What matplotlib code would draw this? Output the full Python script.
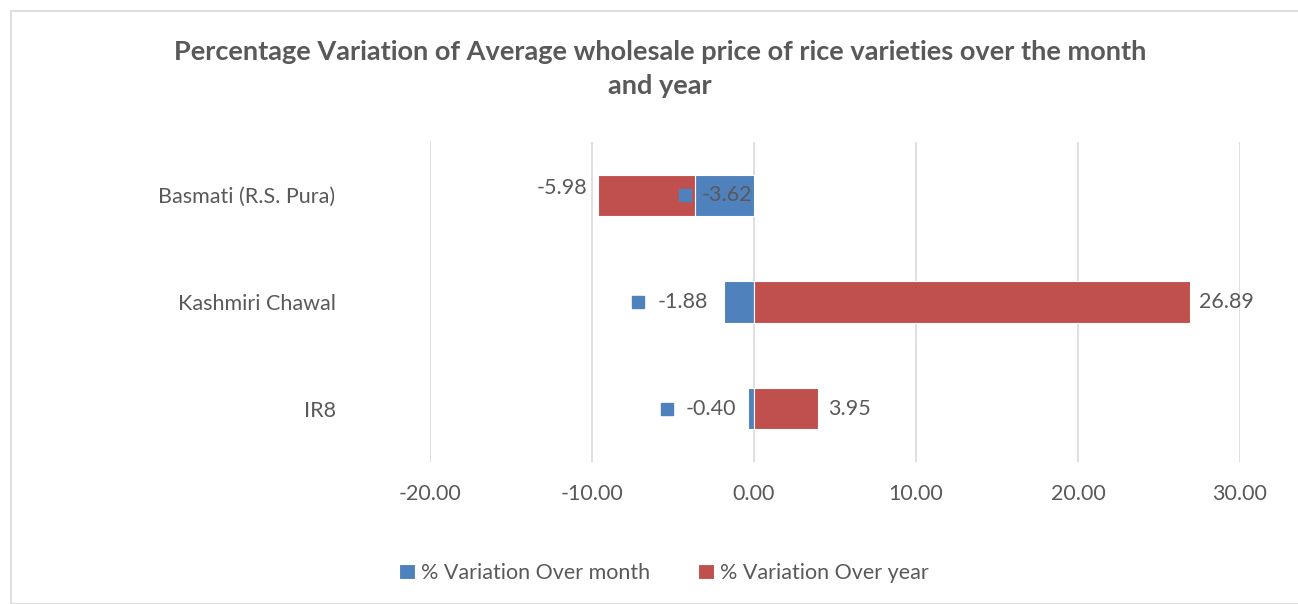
import matplotlib.pyplot as plt
from matplotlib.patches import Rectangle
import numpy as np

categories = ["IR8", "Kashmiri Chawal", "Basmati (R.S. Pura)"]
over_month = [-0.40, -1.88, -3.62]
over_year = [3.95, 26.89, -5.98]
xticks = [-20, -10, 0, 10, 20, 30]

BLUE = "#4f81bd"
RED = "#c0504d"
GRAY = "#595959"
FS = 15.5

plt.rcParams['font.family'] = ['Lato', 'DejaVu Sans']

fig = plt.figure(figsize=(12.98, 6.04), dpi=100)
ax = fig.add_axes([430/1298, 1 - 462/604, (1240-430)/1298, (462-142)/604])

y = np.arange(len(categories))
month = np.array(over_month)
year = np.array(over_year)
# year bars stack after month bars when both negative
left_year = np.where(year < 0, month, 0)

ax.barh(y, month, height=0.39, color=BLUE, edgecolor="white", linewidth=0.8,
        label="% Variation Over month", zorder=3)
ax.barh(y, year, left=left_year, height=0.39, color=RED, edgecolor="white",
        linewidth=0.8, label="% Variation Over year", zorder=3)

ax.set_xlim(-20, 30)
ax.set_ylim(-0.5, 2.5)
ax.set_xticks(xticks)
ax.set_xticklabels([f"{v:.2f}" for v in xticks])
ax.set_yticks(y)
ax.set_yticklabels(categories)
ax.tick_params(axis="both", length=0, labelsize=FS, colors=GRAY)
ax.tick_params(axis="x", pad=16)
ax.tick_params(axis="y", pad=68)
ax.grid(axis="x", color="#d9d9d9", linewidth=1.2, zorder=0)
for s in ax.spines.values():
    s.set_visible(False)

# month labels with a legend key, placed left of the value
month_label_x = [-2.65, -4.4, -1.65]
for i, (v, lx) in enumerate(zip(month, month_label_x)):
    ax.text(lx, i, f"{v:.2f}", ha="center", va="center", fontsize=FS, color=GRAY, zorder=5)
    key_x = lx - 2.75 if i != 2 else lx - 2.6
    ax.plot([key_x], [i], marker="s", markersize=9, color=BLUE, zorder=5)

for i, v in enumerate(year):
    end = left_year[i] + v
    if v < 0:
        ax.text(end - 0.7, i + 0.07, f"{v:.2f}", ha="right", va="center", fontsize=FS, color=GRAY)
    else:
        ax.text(end + 0.6, i, f"{v:.2f}", ha="left", va="center", fontsize=FS, color=GRAY)

fig.text(660/1298, 1 - 69/604, "Percentage Variation of Average wholesale price of rice varieties over the month\nand year",
         ha="center", va="center", fontsize=19.5, fontweight="bold", color=GRAY, linespacing=1.45)

fig.legend(loc="center", bbox_to_anchor=(664/1298, 1 - 573/604), ncol=2, frameon=False,
           fontsize=FS, labelcolor=GRAY, handlelength=0.75, handleheight=0.75,
           handletextpad=0.3, columnspacing=2.2)

fig.patches.append(Rectangle((11/1298, 0), 1.2, 1 - 11/604, transform=fig.transFigure,
                             fill=False, edgecolor="#d9d9d9", linewidth=1.2))

fig.savefig("out.png", dpi=100)
